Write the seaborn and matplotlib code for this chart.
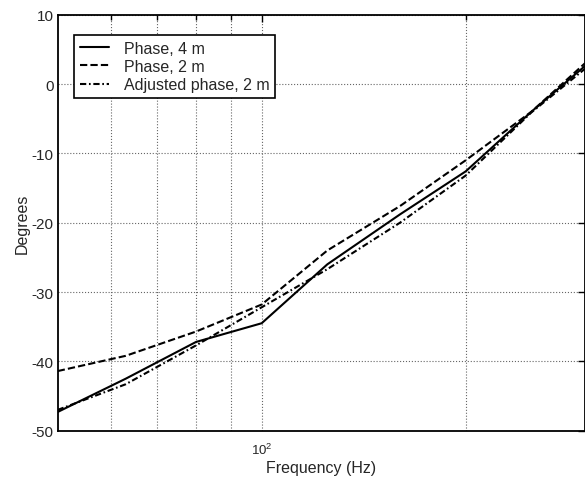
import numpy as np
import pandas as pd
import matplotlib
matplotlib.use("Agg")
import matplotlib.pyplot as plt
import seaborn as sns
from matplotlib.ticker import FixedLocator, NullFormatter, LogFormatterMathtext

# ---- data ----
freq = [50, 63, 80, 100, 125, 160, 200, 250, 300]
phase_4m = [-47.3, -42.5, -37.2, -34.5, -26.0, -18.8, -12.6, -4.0, 2.6]
phase_2m = [-41.4, -39.2, -35.7, -31.8, -24.0, -17.6, -11.0, -4.0, 3.0]
adjusted_2m = [-47.0, -43.3, -37.7, -32.2, -26.7, -20.0, -13.2, -4.1, 2.2]
series_names = ["Phase, 4 m", "Phase, 2 m", "Adjusted phase, 2 m"]
y_ticks = [-50, -40, -30, -20, -10, 0, 10]

df = pd.DataFrame({
    "freq": freq * 3,
    "deg": phase_4m + phase_2m + adjusted_2m,
    "series": [series_names[0]] * len(freq) + [series_names[1]] * len(freq)
              + [series_names[2]] * len(freq),
})

sns.set_style("white")
plt.rcParams["font.family"] = ["Liberation Sans", "DejaVu Sans"]
plt.rcParams["axes.unicode_minus"] = False
plt.rcParams["mathtext.fontset"] = "custom"
plt.rcParams["mathtext.rm"] = "Liberation Sans"
plt.rcParams["mathtext.it"] = "Liberation Sans"

fig = plt.figure(figsize=(5.85, 4.81), dpi=100)
ax = fig.add_axes([57.7 / 585, 1 - 431.7 / 481, 1 - 57.7 / 585, (431.7 - 15.7) / 481])

dashes = {series_names[0]: "", series_names[1]: (3.5, 1.5), series_names[2]: (3.0, 1.3, 0.8, 1.3)}
palette = {n: "black" for n in series_names}
sns.lineplot(data=df, x="freq", y="deg", hue="series", style="series",
             hue_order=series_names, style_order=series_names,
             palette=palette, dashes=dashes, linewidth=1.5, ax=ax, legend=True)

ax.set_xscale("log")
ax.set_xlim(50, 300)
ax.set_ylim(-50, 10)
ax.yaxis.set_major_locator(FixedLocator(y_ticks))
ax.xaxis.set_major_locator(FixedLocator([100]))
ax.xaxis.set_major_formatter(LogFormatterMathtext())
ax.xaxis.set_minor_locator(FixedLocator([60, 70, 80, 90, 200]))
ax.xaxis.set_minor_formatter(NullFormatter())

ax.set_axisbelow(True)
ax.grid(True, which="major", axis="both", linestyle=":", color="0.4", linewidth=0.8)
ax.grid(True, which="minor", axis="x", linestyle=":", color="0.4", linewidth=0.8)

for s in ax.spines.values():
    s.set_visible(True)
    s.set_color("black")
    s.set_linewidth(1.3)

ax.tick_params(which="both", direction="in", top=True, right=True, color="black")
ax.tick_params(which="major", length=5, width=1.0)
ax.tick_params(which="minor", length=3.5, width=1.0)
ax.tick_params(axis="y", labelsize=11, pad=3)
ax.tick_params(axis="x", labelsize=9.5, pad=8)

ax.set_xlabel("Frequency (Hz)", fontsize=11.5, labelpad=2)
ax.set_ylabel("Degrees", fontsize=11.5, labelpad=1)

handles, labels = ax.get_legend_handles_labels()
leg = ax.legend(handles, labels, loc="upper left", bbox_to_anchor=(0.031, 0.951),
                borderaxespad=0, frameon=True, fancybox=False, shadow=False,
                fontsize=11.5, handlelength=1.8, handletextpad=0.95,
                labelspacing=0.2, borderpad=0.36)
leg.get_frame().set_edgecolor("black")
leg.get_frame().set_linewidth(1.2)
leg.get_frame().set_facecolor("white")
leg.get_frame().set_alpha(1)

fig.savefig("out.png", dpi=100)
